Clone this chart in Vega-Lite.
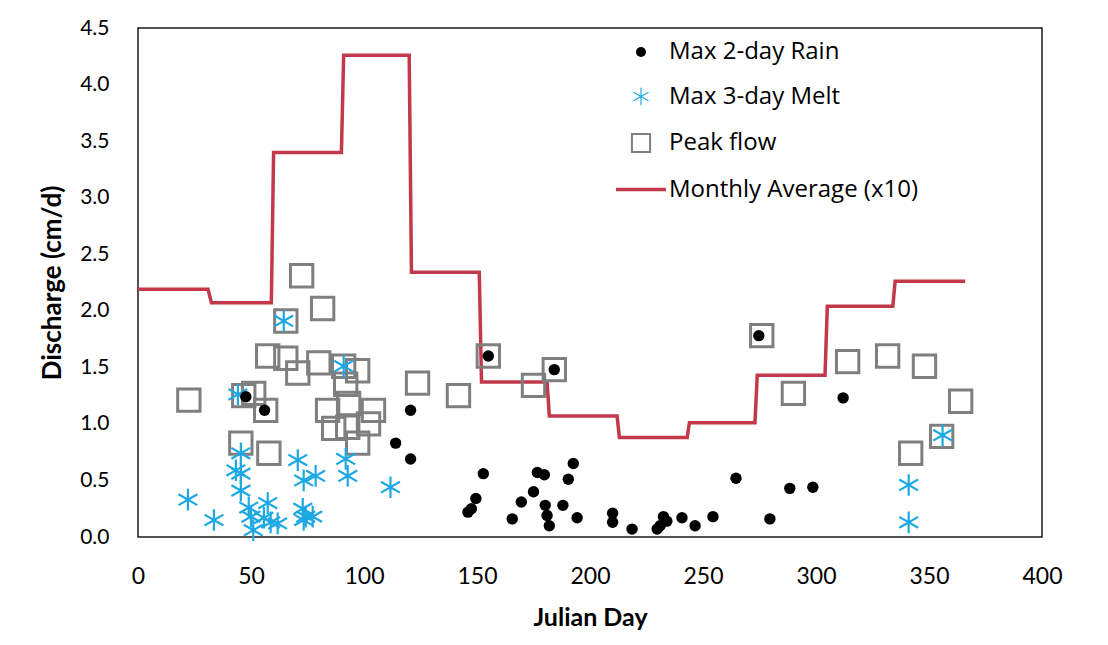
{
  "$schema": "https://vega.github.io/schema/vega-lite/v6.json",
  "width": 904,
  "height": 509,
  "autosize": {"type": "none"},
  "padding": {"left": 138, "top": 28, "right": 66, "bottom": 108},
  "background": "white",
  "config": {
    "view": {"stroke": "#1a1a1a", "strokeWidth": 1.5},
    "font": "Lato"
  },
  "datasets": {
    "avg": [
      {"day": 0, "q": 2.19, "series": "Monthly Average (x10)"},
      {"day": 31, "q": 2.19, "series": "Monthly Average (x10)"},
      {"day": 32.5, "q": 2.07, "series": "Monthly Average (x10)"},
      {"day": 59, "q": 2.07, "series": "Monthly Average (x10)"},
      {"day": 60, "q": 3.4, "series": "Monthly Average (x10)"},
      {"day": 90, "q": 3.4, "series": "Monthly Average (x10)"},
      {"day": 91, "q": 4.26, "series": "Monthly Average (x10)"},
      {"day": 120, "q": 4.26, "series": "Monthly Average (x10)"},
      {"day": 121, "q": 2.34, "series": "Monthly Average (x10)"},
      {"day": 151, "q": 2.34, "series": "Monthly Average (x10)"},
      {"day": 152, "q": 1.37, "series": "Monthly Average (x10)"},
      {"day": 181, "q": 1.37, "series": "Monthly Average (x10)"},
      {"day": 182, "q": 1.07, "series": "Monthly Average (x10)"},
      {"day": 212, "q": 1.07, "series": "Monthly Average (x10)"},
      {"day": 213, "q": 0.88, "series": "Monthly Average (x10)"},
      {"day": 243, "q": 0.88, "series": "Monthly Average (x10)"},
      {"day": 244, "q": 1.01, "series": "Monthly Average (x10)"},
      {"day": 273, "q": 1.01, "series": "Monthly Average (x10)"},
      {"day": 274, "q": 1.43, "series": "Monthly Average (x10)"},
      {"day": 304, "q": 1.43, "series": "Monthly Average (x10)"},
      {"day": 305, "q": 2.04, "series": "Monthly Average (x10)"},
      {"day": 334, "q": 2.04, "series": "Monthly Average (x10)"},
      {"day": 335, "q": 2.26, "series": "Monthly Average (x10)"},
      {"day": 366, "q": 2.26, "series": "Monthly Average (x10)"}
    ],
    "peak": [
      {"day": 22.5, "q": 1.21, "series": "Peak flow"},
      {"day": 45.5, "q": 0.83, "series": "Peak flow"},
      {"day": 46.8, "q": 1.25, "series": "Peak flow"},
      {"day": 51.2, "q": 1.27, "series": "Peak flow"},
      {"day": 56.5, "q": 1.12, "series": "Peak flow"},
      {"day": 57.9, "q": 0.74, "series": "Peak flow"},
      {"day": 65.4, "q": 1.91, "series": "Peak flow"},
      {"day": 57.4, "q": 1.6, "series": "Peak flow"},
      {"day": 65.4, "q": 1.58, "series": "Peak flow"},
      {"day": 70.7, "q": 1.45, "series": "Peak flow"},
      {"day": 72.4, "q": 2.31, "series": "Peak flow"},
      {"day": 81.7, "q": 2.02, "series": "Peak flow"},
      {"day": 80, "q": 1.54, "series": "Peak flow"},
      {"day": 91, "q": 1.51, "series": "Peak flow"},
      {"day": 97.2, "q": 1.47, "series": "Peak flow"},
      {"day": 91.9, "q": 1.35, "series": "Peak flow"},
      {"day": 93.2, "q": 1.18, "series": "Peak flow"},
      {"day": 83.9, "q": 1.12, "series": "Peak flow"},
      {"day": 104.2, "q": 1.12, "series": "Peak flow"},
      {"day": 86.6, "q": 0.96, "series": "Peak flow"},
      {"day": 92.8, "q": 0.97, "series": "Peak flow"},
      {"day": 102, "q": 1.0, "series": "Peak flow"},
      {"day": 97.2, "q": 0.83, "series": "Peak flow"},
      {"day": 123.7, "q": 1.36, "series": "Peak flow"},
      {"day": 141.8, "q": 1.25, "series": "Peak flow"},
      {"day": 155, "q": 1.6, "series": "Peak flow"},
      {"day": 175, "q": 1.34, "series": "Peak flow"},
      {"day": 184.2, "q": 1.48, "series": "Peak flow"},
      {"day": 276, "q": 1.78, "series": "Peak flow"},
      {"day": 290, "q": 1.27, "series": "Peak flow"},
      {"day": 314, "q": 1.55, "series": "Peak flow"},
      {"day": 331.7, "q": 1.6, "series": "Peak flow"},
      {"day": 348, "q": 1.51, "series": "Peak flow"},
      {"day": 364, "q": 1.2, "series": "Peak flow"},
      {"day": 355.6, "q": 0.89, "series": "Peak flow"},
      {"day": 341.9, "q": 0.74, "series": "Peak flow"}
    ],
    "melt": [
      {"day": 22.1, "q": 0.33, "series": "\u00a0Max 3-day Melt"},
      {"day": 33.6, "q": 0.15, "series": "\u00a0Max 3-day Melt"},
      {"day": 45.5, "q": 0.74, "series": "\u00a0Max 3-day Melt"},
      {"day": 43.3, "q": 0.59, "series": "\u00a0Max 3-day Melt"},
      {"day": 45.5, "q": 0.56, "series": "\u00a0Max 3-day Melt"},
      {"day": 45.5, "q": 0.41, "series": "\u00a0Max 3-day Melt"},
      {"day": 49, "q": 0.26, "series": "\u00a0Max 3-day Melt"},
      {"day": 50, "q": 0.18, "series": "\u00a0Max 3-day Melt"},
      {"day": 51, "q": 0.06, "series": "\u00a0Max 3-day Melt"},
      {"day": 55.7, "q": 0.17, "series": "\u00a0Max 3-day Melt"},
      {"day": 57.4, "q": 0.3, "series": "\u00a0Max 3-day Melt"},
      {"day": 58.7, "q": 0.13, "series": "\u00a0Max 3-day Melt"},
      {"day": 61.8, "q": 0.12, "series": "\u00a0Max 3-day Melt"},
      {"day": 70.7, "q": 0.68, "series": "\u00a0Max 3-day Melt"},
      {"day": 73.3, "q": 0.5, "series": "\u00a0Max 3-day Melt"},
      {"day": 72.9, "q": 0.25, "series": "\u00a0Max 3-day Melt"},
      {"day": 73.3, "q": 0.15, "series": "\u00a0Max 3-day Melt"},
      {"day": 78.6, "q": 0.54, "series": "\u00a0Max 3-day Melt"},
      {"day": 74.2, "q": 0.18, "series": "\u00a0Max 3-day Melt"},
      {"day": 77.3, "q": 0.18, "series": "\u00a0Max 3-day Melt"},
      {"day": 91.9, "q": 0.69, "series": "\u00a0Max 3-day Melt"},
      {"day": 92.8, "q": 0.54, "series": "\u00a0Max 3-day Melt"},
      {"day": 111.7, "q": 0.44, "series": "\u00a0Max 3-day Melt"},
      {"day": 64.5, "q": 1.91, "series": "\u00a0Max 3-day Melt"},
      {"day": 44.2, "q": 1.26, "series": "\u00a0Max 3-day Melt"},
      {"day": 91, "q": 1.51, "series": "\u00a0Max 3-day Melt"},
      {"day": 341, "q": 0.46, "series": "\u00a0Max 3-day Melt"},
      {"day": 341, "q": 0.13, "series": "\u00a0Max 3-day Melt"},
      {"day": 356, "q": 0.9, "series": "\u00a0Max 3-day Melt"}
    ],
    "rain": [
      {"day": 47.7, "q": 1.24, "series": "Max 2-day Rain"},
      {"day": 56, "q": 1.12, "series": "Max 2-day Rain"},
      {"day": 120.6, "q": 1.12, "series": "Max 2-day Rain"},
      {"day": 114, "q": 0.83, "series": "Max 2-day Rain"},
      {"day": 120.6, "q": 0.69, "series": "Max 2-day Rain"},
      {"day": 146, "q": 0.22, "series": "Max 2-day Rain"},
      {"day": 147.5, "q": 0.25, "series": "Max 2-day Rain"},
      {"day": 149.5, "q": 0.34, "series": "Max 2-day Rain"},
      {"day": 152.8, "q": 0.56, "series": "Max 2-day Rain"},
      {"day": 155, "q": 1.6, "series": "Max 2-day Rain"},
      {"day": 165.6, "q": 0.16, "series": "Max 2-day Rain"},
      {"day": 169.6, "q": 0.31, "series": "Max 2-day Rain"},
      {"day": 175, "q": 0.4, "series": "Max 2-day Rain"},
      {"day": 176.7, "q": 0.57, "series": "Max 2-day Rain"},
      {"day": 179.8, "q": 0.55, "series": "Max 2-day Rain"},
      {"day": 180.2, "q": 0.28, "series": "Max 2-day Rain"},
      {"day": 181, "q": 0.19, "series": "Max 2-day Rain"},
      {"day": 182, "q": 0.1, "series": "Max 2-day Rain"},
      {"day": 184.2, "q": 1.48, "series": "Max 2-day Rain"},
      {"day": 188, "q": 0.28, "series": "Max 2-day Rain"},
      {"day": 190.4, "q": 0.51, "series": "Max 2-day Rain"},
      {"day": 192.6, "q": 0.65, "series": "Max 2-day Rain"},
      {"day": 194.3, "q": 0.17, "series": "Max 2-day Rain"},
      {"day": 210, "q": 0.21, "series": "Max 2-day Rain"},
      {"day": 210, "q": 0.13, "series": "Max 2-day Rain"},
      {"day": 218.6, "q": 0.07, "series": "Max 2-day Rain"},
      {"day": 229.7, "q": 0.07, "series": "Max 2-day Rain"},
      {"day": 231, "q": 0.1, "series": "Max 2-day Rain"},
      {"day": 232.5, "q": 0.18, "series": "Max 2-day Rain"},
      {"day": 234, "q": 0.14, "series": "Max 2-day Rain"},
      {"day": 240.7, "q": 0.17, "series": "Max 2-day Rain"},
      {"day": 246.5, "q": 0.1, "series": "Max 2-day Rain"},
      {"day": 254.4, "q": 0.18, "series": "Max 2-day Rain"},
      {"day": 264.6, "q": 0.52, "series": "Max 2-day Rain"},
      {"day": 274.7, "q": 1.78, "series": "Max 2-day Rain"},
      {"day": 279.6, "q": 0.16, "series": "Max 2-day Rain"},
      {"day": 288.4, "q": 0.43, "series": "Max 2-day Rain"},
      {"day": 298.6, "q": 0.44, "series": "Max 2-day Rain"},
      {"day": 312, "q": 1.23, "series": "Max 2-day Rain"}
    ]
  },
  "encoding": {
    "x": {
      "field": "day", "type": "quantitative",
      "scale": {"domain": [0, 400], "nice": false, "zero": false},
      "axis": {
        "title": "Julian Day", "values": [0, 50, 100, 150, 200, 250, 300, 350, 400],
        "grid": false, "ticks": false, "domain": false,
        "labelFont": "Lato", "labelFontSize": 23, "labelColor": "#000", "labelPadding": 28,
        "labelFlush": false,
        "titleFont": "Lato", "titleFontSize": 25, "titleFontWeight": "bold", "titleColor": "#000", "titlePadding": 17
      }
    },
    "y": {
      "field": "q", "type": "quantitative",
      "scale": {"domain": [0, 4.5], "nice": false, "zero": false},
      "axis": {
        "title": "Discharge (cm/d)", "values": [0, 0.5, 1, 1.5, 2, 2.5, 3, 3.5, 4, 4.5], "format": ".1f",
        "grid": false, "ticks": false, "domain": false,
        "labelFont": "Lato", "labelFontSize": 21, "labelColor": "#000", "labelPadding": 29,
        "labelFlush": false,
        "titleFont": "Lato", "titleFontSize": 26, "titleFontWeight": "bold", "titleColor": "#000", "titlePadding": 14
      }
    },
    "color": {
      "field": "series", "type": "nominal",
      "scale": {
        "domain": ["Max 2-day Rain", "\u00a0Max 3-day Melt", "Peak flow", "Monthly Average (x10)"],
        "range": ["#000000", "#1ca8e3", "#7f7f7f", "#c3384a"]
      },
      "legend": {
        "orient": "none", "legendX": 491, "legendY": 12, "title": null,
        "labelFont": "Open Sans", "labelFontSize": 24, "labelColor": "#000", "labelLimit": 500,
        "symbolSize": 2500, "rowPadding": 20.5, "labelOffset": 16,
        "symbolType": "circle",
        "encode": {
          "symbols": {
            "update": {
              "shape": {"signal": "datum.value === 'Max 2-day Rain' ? 'circle' : datum.value === 'Peak flow' ? 'square' : datum.value === 'Monthly Average (x10)' ? 'stroke' : 'M0,-1L0,1M-0.87,-0.5L0.87,0.5M-0.87,0.5L0.87,-0.5'"},
              "size": {"signal": "datum.value === 'Max 2-day Rain' ? 100 : datum.value === 'Peak flow' ? 330 : datum.value === 'Monthly Average (x10)' ? 2500 : 300"},
              "fill": {"signal": "datum.value === 'Max 2-day Rain' ? '#000000' : 'rgba(0,0,0,0)'"},
              "fillOpacity": {"signal": "datum.value === 'Max 2-day Rain' ? 1 : 0"},
              "stroke": {"signal": "datum.value === 'Max 2-day Rain' ? '#000000' : datum.value === 'Peak flow' ? '#7f7f7f' : datum.value === 'Monthly Average (x10)' ? '#c3384a' : '#2fc1a8'"},
              "strokeWidth": {"signal": "datum.value === 'Max 2-day Rain' ? 0 : datum.value === 'Peak flow' ? 2 : datum.value === 'Monthly Average (x10)' ? 3.5 : 1.2"},
              "opacity": {"value": 1}
            }
          }
        }
      }
    }
  },
  "layer": [
    {
      "data": {"name": "avg"},
      "mark": {"type": "line", "strokeWidth": 3.5, "interpolate": "linear"}
    },
    {
      "data": {"name": "peak"},
      "mark": {"type": "point", "shape": "square", "filled": false, "size": 500, "strokeWidth": 3, "opacity": 1}
    },
    {
      "data": {"name": "melt"},
      "mark": {"type": "point", "shape": "M0,-1L0,1M-0.87,-0.5L0.87,0.5M-0.87,0.5L0.87,-0.5", "filled": false, "size": 470, "strokeWidth": 2.2, "opacity": 1}
    },
    {
      "data": {"name": "rain"},
      "mark": {"type": "point", "shape": "circle", "filled": true, "size": 130, "opacity": 1}
    }
  ]
}
